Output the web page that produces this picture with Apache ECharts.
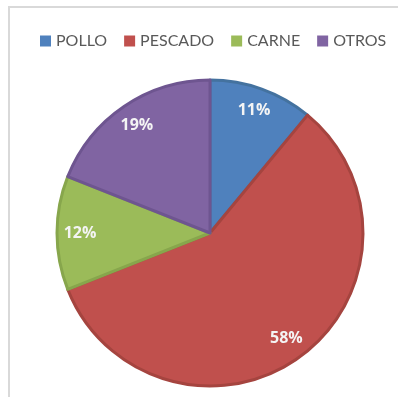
<!DOCTYPE html>
<html>
<head>
<meta charset="utf-8">
<script src="https://cdn.jsdelivr.net/npm/echarts@6/dist/echarts.min.js"></script>
<style>
  html, body { margin: 0; padding: 0; background: #ffffff; }
  #chart { width: 398px; height: 397px; }
</style>
</head>
<body>
<div id="chart"></div>
<script>
// Meal type shares (percent)
const categories = ['POLLO', 'PESCADO', 'CARNE', 'OTROS'];
const values = [11, 58, 12, 19];
const fillColors = ['#4F81BD', '#C0504D', '#9BBB59', '#8064A2'];
const edgeColors = ['#44729f', '#a5443f', '#87a64c', '#6e5590'];

const sliceData = categories.map((name, i) => ({
  name: name,
  value: values[i],
  itemStyle: { color: fillColors[i], borderColor: edgeColors[i], borderWidth: 3 }
}));

// Same values again, transparent, only to place the percentage labels near the rim
const labelData = categories.map((name, i) => ({
  name: name,
  value: values[i],
  itemStyle: { color: 'rgba(0,0,0,0)' }
}));

const chart = echarts.init(document.getElementById('chart'), null, { renderer: 'canvas' });
chart.setOption({
  animation: false,
  backgroundColor: '#ffffff',
  graphic: [{
    type: 'rect',
    shape: { x: 9, y: 7, width: 600, height: 600 },
    style: { fill: 'none', stroke: '#d9d9d9', lineWidth: 2 },
    silent: true,
    z: -1
  }],
  legend: {
    data: categories,
    left: 40,
    top: 33,
    padding: 0,
    icon: 'rect',
    itemWidth: 11,
    itemHeight: 11,
    itemGap: 17,
    itemStyle: { borderWidth: 0 },
    textStyle: { fontFamily: 'Lato', fontSize: 16, color: '#595959' }
  },
  series: [
    {
      type: 'pie',
      center: [210, 233],
      radius: [0, 153],
      startAngle: 90,
      clockwise: true,
      data: sliceData,
      label: { show: false },
      labelLine: { show: false },
      emphasis: { disabled: true },
      silent: true
    },
    {
      type: 'pie',
      center: [210, 233],
      radius: [101, 153],
      startAngle: 90,
      clockwise: true,
      data: labelData,
      legendHoverLink: false,
      label: {
        show: true,
        position: 'inside',
        formatter: '{d}%',
        color: '#f4f4f4',
        fontFamily: 'Open Sans',
        fontWeight: 'bold',
        fontSize: 16,
        padding: [4, 0, 0, 0]
      },
      labelLine: { show: false },
      emphasis: { disabled: true },
      silent: true,
      z: 3
    }
  ]
});
</script>
</body>
</html>
